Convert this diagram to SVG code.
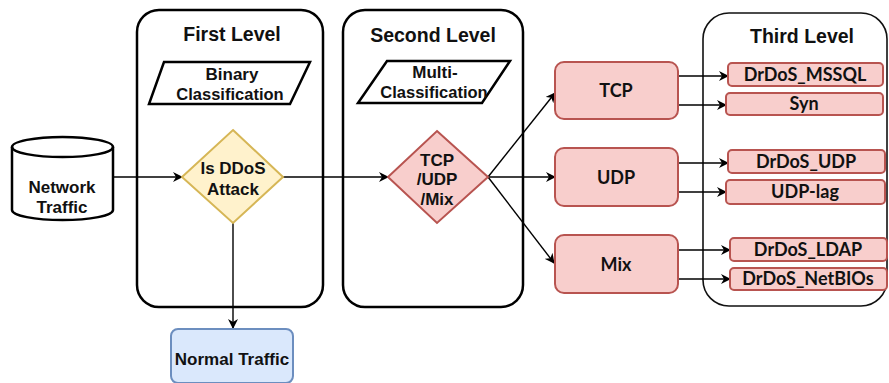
<svg xmlns="http://www.w3.org/2000/svg" width="889" height="383" viewBox="0 0 889 383">
<style>
.bg{fill:#fff}
.lvl{fill:#fff;stroke:#000;stroke-width:2.5}
.lvl3{fill:#fff;stroke:#111;stroke-width:1.6}
.t{font-family:"Liberation Sans",Arial,sans-serif;font-weight:bold;fill:#111;text-anchor:middle}
.c{font-family:Lato,"Open Sans",sans-serif;font-weight:bold;fill:#111;text-anchor:middle;font-size:18px}
.title{font-size:19.5px}
.lab{font-size:17px}
.cls{font-size:16.5px}
.para{fill:#fff;stroke:#000;stroke-width:2.5}
.red{fill:#f8cecc;stroke:#b85450;stroke-width:2}
.yel{fill:#fff2cc;stroke:#d6b656;stroke-width:2}
.blu{fill:#dae8fc;stroke:#6c8ebf;stroke-width:2}
.edge{fill:none;stroke:#000;stroke-width:1.4}
</style>
<defs>
<marker id="arr" viewBox="0 0 10 10" refX="9" refY="5" markerWidth="10" markerHeight="10" markerUnits="userSpaceOnUse" orient="auto">
<path d="M0,0 L10,5 L0,10 L3,5 Z" fill="#000"/>
</marker>
</defs>
<rect class="bg" x="0" y="0" width="889" height="383"/>

<g id="first-level">
<rect class="lvl" x="137" y="10" width="186" height="297" rx="22"/>
<text class="t title" x="232" y="41">First Level</text>
</g>
<g id="second-level">
<rect class="lvl" x="343" y="10" width="180" height="297" rx="22"/>
<text class="t title" x="433" y="42">Second Level</text>
</g>
<g id="third-level">
<rect class="lvl3" x="703" y="13" width="184" height="293" rx="26"/>
<text class="t title" x="802" y="43">Third Level</text>
</g>

<g id="connectors">
<line class="edge" x1="113" y1="177" x2="182" y2="177" marker-end="url(#arr)"/>
<line class="edge" x1="283" y1="177" x2="388" y2="177" marker-end="url(#arr)"/>
<line class="edge" x1="233" y1="223" x2="233" y2="328" marker-end="url(#arr)"/>
<line class="edge" x1="488" y1="177" x2="555" y2="93" marker-end="url(#arr)"/>
<line class="edge" x1="488" y1="177" x2="555" y2="177" marker-end="url(#arr)"/>
<line class="edge" x1="488" y1="177" x2="554" y2="263" marker-end="url(#arr)"/>
<line class="edge" x1="678" y1="76" x2="728" y2="76" marker-end="url(#arr)"/>
<line class="edge" x1="678" y1="105" x2="726" y2="105" marker-end="url(#arr)"/>
<line class="edge" x1="678" y1="163" x2="728" y2="163" marker-end="url(#arr)"/>
<line class="edge" x1="678" y1="192" x2="726" y2="192" marker-end="url(#arr)"/>
<line class="edge" x1="678" y1="250" x2="730" y2="250" marker-end="url(#arr)"/>
<line class="edge" x1="678" y1="279" x2="730" y2="279" marker-end="url(#arr)"/>
</g>

<g id="network-traffic">
<path d="M12,147 A50,10 0 0 1 113,147 L113,210 A50,10 0 0 1 12,210 Z" fill="#fff" stroke="#000" stroke-width="2.5"/>
<path d="M12,147 A50,10 0 0 0 113,147" fill="none" stroke="#000" stroke-width="2.5"/>
<text class="t lab" x="62" y="193">Network</text>
<text class="t lab" x="62" y="213">Traffic</text>
</g>

<g id="binary-classification">
<polygon class="para" points="164,62 310,62 290,104 149,104"/>
<text class="t lab" x="232" y="80">Binary</text>
<text class="t cls" x="230" y="100">Classification</text>
</g>

<g id="multi-classification">
<polygon class="para" points="387,61 510,61 482,103 358,103"/>
<text class="t lab" x="435" y="78">Multi-</text>
<text class="t cls" x="434" y="98">Classification</text>
</g>

<g id="is-ddos">
<polygon class="yel" points="233,130 283,177 233,223 182,177"/>
<text class="t lab" x="233" y="174">Is DDoS</text>
<text class="t lab" x="233" y="195">Attack</text>
</g>

<g id="tcp-udp-mix">
<polygon class="red" points="437,131 488,177 437,223 388,177"/>
<text class="t lab" x="437" y="166">TCP</text>
<text class="t lab" x="437" y="185">/UDP</text>
<text class="t lab" x="437" y="205">/Mix</text>
</g>

<g id="normal-traffic">
<rect class="blu" x="171" y="329" width="122" height="54" rx="7"/>
<text class="t lab" x="232" y="365">Normal Traffic</text>
</g>

<g id="tcp">
<rect class="red" x="555" y="62" width="123" height="57" rx="9"/>
<text class="c" x="616" y="97">TCP</text>
</g>
<g id="udp">
<rect class="red" x="555" y="148" width="123" height="58" rx="9"/>
<text class="c" x="616" y="184">UDP</text>
</g>
<g id="mix">
<rect class="red" x="555" y="235" width="123" height="58" rx="9"/>
<text class="c" x="616" y="271">Mix</text>
</g>

<g id="drdos-mssql">
<rect class="red" x="728" y="63" width="155" height="23" rx="4"/>
<text class="c" x="805" y="81">DrDoS_MSSQL</text>
</g>
<g id="syn">
<rect class="red" x="726" y="93" width="157" height="22" rx="4"/>
<text class="c" x="804" y="110">Syn</text>
</g>
<g id="drdos-udp">
<rect class="red" x="728" y="150" width="157" height="23" rx="4"/>
<text class="c" x="806" y="168">DrDoS_UDP</text>
</g>
<g id="udp-lag">
<rect class="red" x="726" y="180" width="159" height="24" rx="4"/>
<text class="c" x="805" y="198">UDP-lag</text>
</g>
<g id="drdos-ldap">
<rect class="red" x="730" y="238" width="157" height="23" rx="4"/>
<text class="c" x="808" y="256">DrDoS_LDAP</text>
</g>
<g id="drdos-netbios">
<rect class="red" x="730" y="268" width="157" height="22" rx="4"/>
<text class="c" x="808" y="285">DrDoS_NetBIOs</text>
</g>
</svg>
